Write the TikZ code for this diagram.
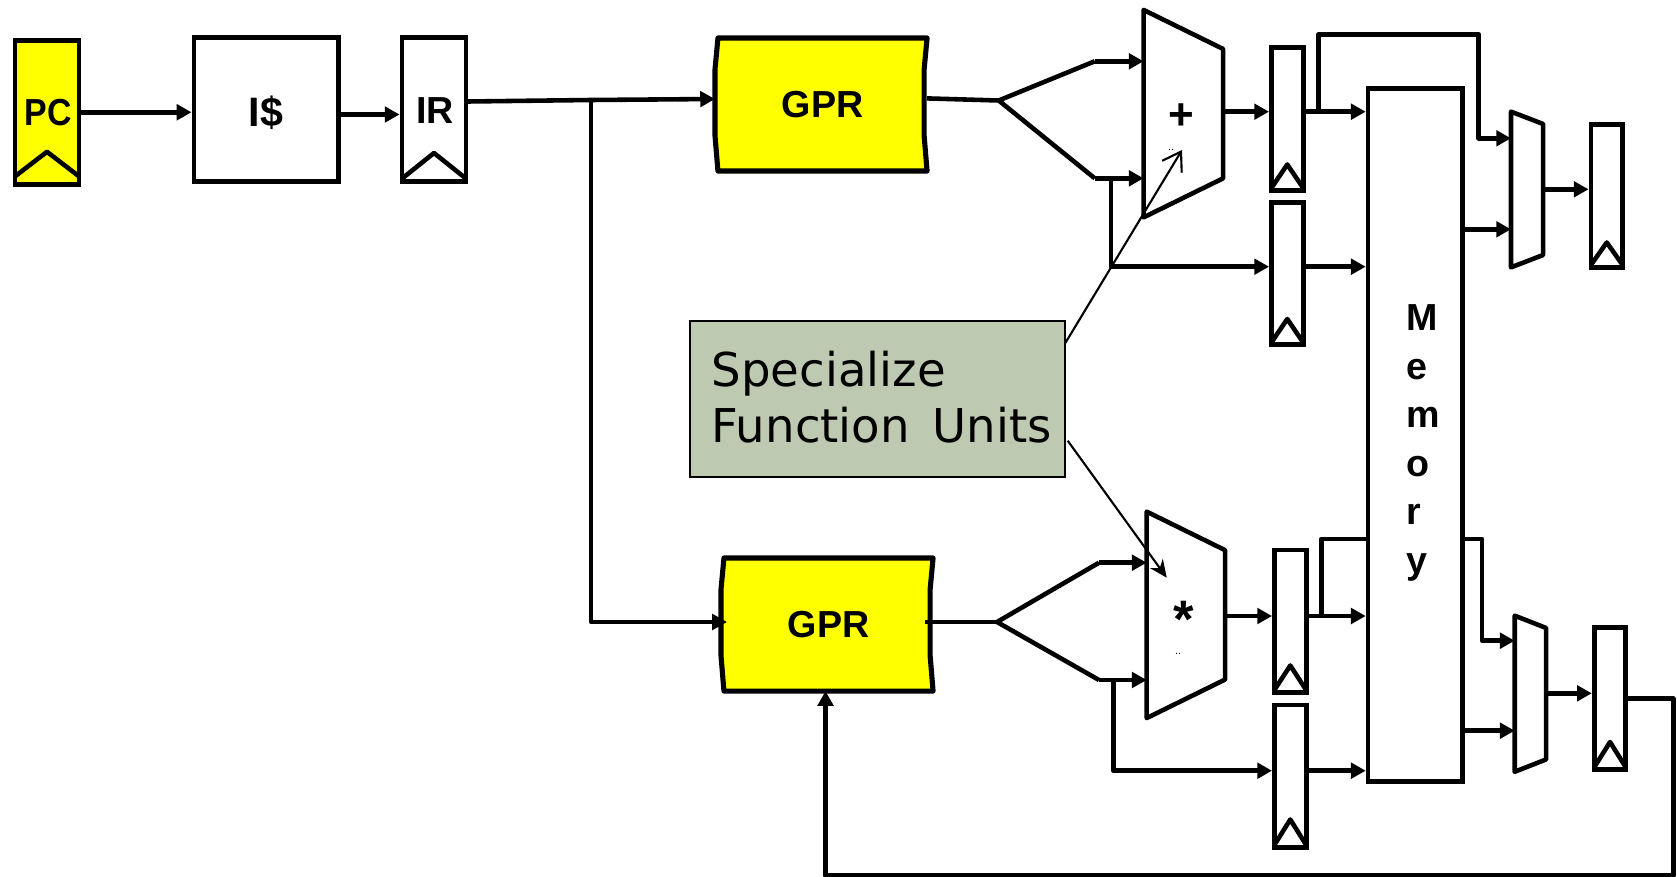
\documentclass[tikz,border=0pt]{standalone}
\usepackage{fontspec}
\setmainfont{Liberation Sans}
\newfontfamily\notefont{DejaVu Sans}
\usepackage{xcolor}
\usetikzlibrary{arrows.meta,positioning,calc,backgrounds}
\definecolor{noteback}{RGB}{189,201,176}
\definecolor{regyellow}{RGB}{255,255,0}
\tikzset{
  % wires and outlines
  edge/.style={line width=1.3pt, line join=round},
  wire/.style={edge},
  arr/.style={edge, -{Triangle[length=4.2pt,width=4.4pt]}},
  % boxes
  box/.style={line width=1.4pt, draw, inner sep=0pt},
  boxtext/.style={inner sep=0pt, font=\fontsize{10.7}{13.8}\selectfont\bfseries},
  reg/.style={box, minimum width=0.315cm, minimum height=1.42cm},
  widereg/.style={box, minimum width=0.64cm, minimum height=1.44cm},
  % shapes drawn afterwards round an empty node
  gpr/.style={boxtext, outer sep=0pt, minimum width=2.09cm, minimum height=1.33cm},
  unit/.style={outer sep=0pt, inner sep=0pt},
  oper/.style={inner sep=0pt, font=\fontsize{12.5}{14}\selectfont\bfseries},
  note/.style={line width=0.6pt, draw, fill=noteback, outer sep=0pt, inner sep=0pt,
    minimum width=3.753cm, minimum height=1.557cm},
  pointer/.style={line width=0.6pt},
}
\begin{document}
\begin{tikzpicture}[x=0.01cm, y=-0.01cm]
    \useasboundingbox (0,0) rectangle (1677,876);

    % fetch
    \node[widereg, fill=regyellow] (pc) at (47,112.25) {};
    \node[boxtext] (pctext) at (48,113) {\addfontfeature{FakeStretch=0.9}PC};
    \node[box, minimum width=1.44cm, minimum height=1.44cm] (icache) at (266,109.5) {};
    \node[boxtext, font=\fontsize{11.7}{13.8}\selectfont\bfseries] (ictext) at (266,113) {I\$};
    \node[widereg] (ir) at (434,109.5) {};
    \node[boxtext] (irtext) at (435,111) {IR};

    \node[gpr] (gprA) at (822.5,104.5) {GPR};
    \node[gpr] (gprB) at (828.5,624.5) {GPR};
    \begin{scope}[on background layer]
    \foreach \g in {gprA,gprB}
        \draw[edge, line width=1.45pt, fill=regyellow] (\g.north west) -- (\g.north east)
            -- ($(\g.north east)+(-3,32)$) -- ($(\g.south east)+(-3,-36)$) -- (\g.south east)
            -- (\g.south west) -- ($(\g.south west)+(-3,-36)$) -- ($(\g.north west)+(-3,32)$) -- cycle;
    \end{scope}

    % function units
    \node[unit, minimum width=0.794cm, minimum height=2.073cm] (add) at (1183.3,113.65) {};
    \node[unit, minimum width=0.783cm, minimum height=2.063cm] (mul) at (1185.85,614.85) {};
    \node[unit, minimum width=0.32cm, minimum height=1.556cm] (muxA) at (1527,189.5) {};
    \node[unit, minimum width=0.313cm, minimum height=1.56cm] (muxB) at (1530.35,693.7) {};
    \foreach \u/\d in {add/39,mul/38.5,muxA/12.3,muxB/12.3}
        \draw[edge] (\u.north west) -- ($(\u.north east)+(0,\d)$)
            -- ($(\u.south east)+(0,-\d)$) -- (\u.south west) -- cycle;
    \node[oper] (addop) at (1181,117) {+};
    \node[oper, font=\fontsize{15}{16}\selectfont\bfseries] (mulop) at (1184,619) {*};
    \node[inner sep=0pt, font=\fontsize{3}{3}\selectfont] (addmark) at (1171,150) {..};
    \node[inner sep=0pt, font=\fontsize{3}{3}\selectfont] (mulmark) at (1178,654) {..};

    % registers
    \node[reg] (regA) at (1287.25,119) {};
    \node[reg] (regB) at (1287.25,273.5) {};
    \node[reg] (regC) at (1606.75,196) {};
    \node[reg] (regD) at (1290.25,621) {};
    \node[reg] (regE) at (1290.25,776) {};
    \node[reg] (regF) at (1610,698.5) {};
    \foreach \r/\h/\e in {pc/35/10,ir/31/5,regA/28/4,regB/28/4,regC/27/4,regD/29/4,regE/30/4,regF/30/4}
        \draw[edge] ($(\r.south west)+(2,-\e)$) -- ($(\r.south)+(0,-\h)$) -- ($(\r.south east)+(-2,-\e)$);

    % memory
    \node[box, line width=1.3pt, minimum width=0.945cm, minimum height=6.93cm] (mem) at (1415.25,435) {};
    \node[boxtext, align=left, anchor=west] (memtext) at (1406,443) {M\\e\\m\\o\\r\\y};

    % specialize note
    \node[note] (spec) at (877.6,398.8) {};
    \node[inner sep=0pt, anchor=west, align=left, font=\fontsize{13.25}{15.9}\selectfont\notefont, text=black]
        (spectext) at (711,397) {Specialize\\Function\hspace{2.2pt} Units};

    % junction points
    \coordinate (irout) at (468,101.5);
    \coordinate (irsplit) at (591,100);
    \coordinate (gprAin) at (715,99);
    \coordinate (gprAout) at (927,98.4);
    \coordinate (forkA) at (998.7,100.5);
    \coordinate (forkAup) at (1094.7,61.3);
    \coordinate (forkAdn) at (1094.7,178.3);
    \coordinate (bypassA) at (1111,178.3);
    \coordinate (bypassAb) at (1111,266.7);
    \coordinate (addout) at (1223,111.7);
    \coordinate (tapA) at (1318.7,111.7);
    \coordinate (tapAb) at (1318.7,34.3);
    \coordinate (tapAc) at (1478.7,34.3);
    \coordinate (tapAd) at (1478.7,138.3);
    \coordinate (memoutA) at (1465,229.3);
    \coordinate (muxAout) at (1543,189.3);

    \coordinate (gprBin) at (591,622);
    \coordinate (gprBtip) at (727,622);
    \coordinate (gprBout) at (925,622);
    \coordinate (forkB) at (997,622);
    \coordinate (forkBup) at (1099,562.7);
    \coordinate (forkBdn) at (1099,680);
    \coordinate (bypassB) at (1113.3,680);
    \coordinate (bypassBb) at (1113.3,770.7);
    \coordinate (mulout) at (1225,616);
    \coordinate (tapB) at (1321.3,616);
    \coordinate (tapBb) at (1321.3,539);
    \coordinate (tapBc) at (1368,539);
    \coordinate (tapBd) at (1462.5,539);
    \coordinate (tapBe) at (1482,539);
    \coordinate (tapBf) at (1482,640.7);
    \coordinate (memoutB) at (1465,730.7);
    \coordinate (muxBout) at (1546,693.3);
    \coordinate (backA) at (1627.5,698.7);
    \coordinate (backB) at (1673.3,698.7);
    \coordinate (backC) at (1673.3,875.3);
    \coordinate (backD) at (825.5,875.3);

    % fetch wires
    \draw[arr] (pc.east) -- (pc.east -| icache.west);
    \draw[arr] ($(icache.east)+(0,5)$) -- ($(ir.west)+(0,5)$);
    \draw[arr] (irout) -- (irsplit) -- (gprAin);
    \draw[arr] (irsplit) -- (gprBin) -- (gprBtip);

    % upper path
    \draw[wire] (gprAout) -- (forkA);
    \draw[wire] (forkAup) -- (forkA) -- (forkAdn);
    \draw[arr] (forkAup) -- (forkAup -| add.west);
    \draw[arr] (forkAdn) -- (forkAdn -| add.west);
    \draw[arr] (bypassA) -- (bypassAb) -- (bypassAb -| regB.west);
    \draw[arr] (addout) -- (addout -| regA.west);
    \draw[arr] (addout -| regA.east) -- (addout -| mem.west);
    \draw[arr] (bypassAb -| regB.east) -- (bypassAb -| mem.west);
    \draw[arr] (tapA) -- (tapAb) -- (tapAc) -- (tapAd) -- (tapAd -| muxA.west);
    \draw[arr] (memoutA) -- (memoutA -| muxA.west);
    \draw[arr] (muxAout) -- (muxAout -| regC.west);

    % lower path
    \draw[wire] (gprBout) -- (forkB);
    \draw[wire] (forkBup) -- (forkB) -- (forkBdn);
    \draw[arr] (forkBup) -- (forkBup -| mul.west);
    \draw[arr] (forkBdn) -- (forkBdn -| mul.west);
    \draw[arr] (bypassB) -- (bypassBb) -- (bypassBb -| regE.west);
    \draw[arr] (mulout) -- (mulout -| regD.west);
    \draw[arr] (mulout -| regD.east) -- (mulout -| mem.west);
    \draw[arr] (bypassBb -| regE.east) -- (bypassBb -| mem.west);
    \draw[wire] (tapB) -- (tapBb) -- (tapBc);
    \draw[arr] (tapBd) -- (tapBe) -- (tapBf) -- (tapBf -| muxB.west);
    \draw[arr] (memoutB) -- (memoutB -| muxB.west);
    \draw[arr] (muxBout) -- (muxBout -| regF.west);
    \draw[arr] (backA) -- (backB) -- (backC) -- (backD) -- (backD |- gprB.south);

    % note pointers
    \coordinate (specupper) at (1065.3,343);
    \coordinate (speclower) at (1067.7,440.7);
    \coordinate (addtip) at (1182,150);
    \coordinate (multip) at (1166.7,577.7);
    \draw[pointer, -{Straight Barb[length=5pt,width=6.5pt]}] (specupper) -- (addtip);
    \draw[pointer, -{Stealth[length=5pt,width=4.5pt]}] (speclower) -- (multip);
\end{tikzpicture}
\end{document}
